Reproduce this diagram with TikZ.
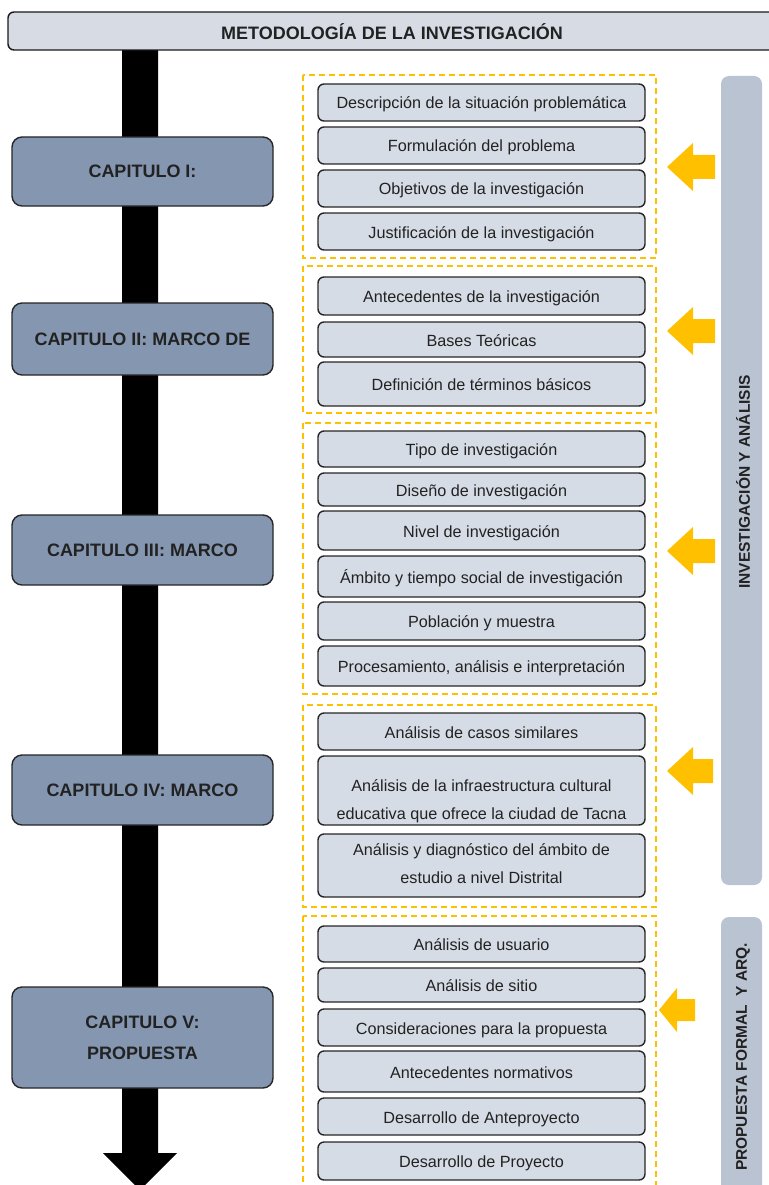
\documentclass[tikz,border=0pt]{standalone}
\usepackage{fontspec}
\setmainfont{Liberation Sans}
\definecolor{titlefill}{HTML}{D7DCE4}
\definecolor{itemfill}{HTML}{D6DCE5}
\definecolor{chapfill}{HTML}{8496B0}
\definecolor{sidefill}{HTML}{BAC3D1}
\definecolor{gold}{HTML}{FFC000}
\definecolor{txt}{HTML}{222222}
\tikzset{
  every node/.style={inner sep=0pt, outer sep=0pt},
  titlebox/.style={draw=black!90, line width=1.4pt, fill=titlefill, rounded corners=6pt},
  titletext/.style={font=\fontsize{18}{21}\selectfont\bfseries, text=txt},
  chapbox/.style={draw=black!85, line width=1.4pt, fill=chapfill, rounded corners=10pt,
    minimum width=261pt, font=\fontsize{18}{31}\selectfont\bfseries, text=txt, align=center},
  itembox/.style={draw=black!85, line width=1.4pt, fill=itemfill, rounded corners=6pt,
    minimum width=327pt, font=\fontsize{16.2}{28}\selectfont, text=txt, align=center,
    execute at begin node={\rule{0pt}{17pt}}, execute at end node={\rule[-4pt]{0pt}{4pt}}},
  grp/.style={draw=gold, line width=1.3pt, dash pattern=on 6pt off 4pt},
  sidebar/.style={fill=sidefill, rounded corners=8pt},
  sidetext/.style={font=\fontsize{15.5}{18}\selectfont\bfseries, text=txt, rotate=90},
  yarrow/.style={fill=gold},
  bigarrow/.style={fill=black},
}
\newcommand{\yarr}[6]{% tipx, y, backx, headhalf, shafthalf, endx
  \fill[yarrow] (#1,#2) -- (#3,#2-#4) -- (#3,#2-#5) -- (#6,#2-#5) -- (#6,#2+#5) -- (#3,#2+#5) -- (#3,#2+#4) -- cycle;}
\begin{document}
\begin{tikzpicture}[x=1pt, y=-1pt]
\useasboundingbox (0,0) rectangle (768,1185);
% main black arrow
\fill[bigarrow] (122,45) -- (158,45) -- (158,1153) -- (177,1153) -- (140,1190) -- (103,1153) -- (122,1153) -- cycle;
% title
\draw[titlebox] (8,12) rectangle (777,50);
\node[titletext] (title) at (392,32) {METODOLOGÍA DE LA INVESTIGACIÓN};
% chapters
\node[chapbox, minimum height=69pt] (c1) at (142.5,171.5) {CAPITULO I:};
\node[chapbox, minimum height=72pt] (c2) at (142.5,339) {CAPITULO II: MARCO DE};
\node[chapbox, minimum height=70pt] (c3) at (142.5,550) {CAPITULO III: MARCO};
\node[chapbox, minimum height=70pt] (c4) at (142.5,790) {CAPITULO IV: MARCO};
\node[chapbox, minimum height=101pt] (c5) at (142.5,1037.5) {CAPITULO V:\\PROPUESTA};
% groups
\draw[grp] (303,75) rectangle (656,258);
\draw[grp] (303,266) rectangle (656,413);
\draw[grp] (303,423) rectangle (656,694);
\draw[grp] (303,705) rectangle (656,907);
\draw[grp] (303,916) rectangle (656,1200);
% group 1
\node[itembox, minimum height=37pt] (i11) at (481.5,102.5) {Descripción de la situación problemática};
\node[itembox, minimum height=37pt] (i12) at (481.5,145.5) {Formulación del problema};
\node[itembox, minimum height=37pt] (i13) at (481.5,188.5) {Objetivos de la investigación};
\node[itembox, minimum height=37pt] (i14) at (481.5,231.5) {Justificación de la investigación};
% group 2
\node[itembox, minimum height=38pt] (i21) at (481.5,296) {Antecedentes de la investigación};
\node[itembox, minimum height=35pt] (i22) at (481.5,339.5) {Bases Teóricas};
\node[itembox, minimum height=44pt] (i23) at (481.5,384) {Definición de términos básicos};
% group 3
\node[itembox, minimum height=36pt] (i31) at (481.5,449) {Tipo de investigación};
\node[itembox, minimum height=33pt] (i32) at (481.5,489.5) {Diseño de investigación};
\node[itembox, minimum height=39pt] (i33) at (481.5,530.5) {Nivel de investigación};
\node[itembox, minimum height=41pt] (i34) at (481.5,576.5) {Ámbito y tiempo social de investigación};
\node[itembox, minimum height=38pt] (i35) at (481.5,621) {Población y muestra};
\node[itembox, minimum height=40pt] (i36) at (481.5,666) {Procesamiento, análisis e interpretación};
% group 4
\node[itembox, minimum height=37pt] (i41) at (481.5,731.5) {Análisis de casos similares};
\node[itembox, minimum height=69pt] (i42) at (481.5,790.5) {\rule{0pt}{33pt}Análisis de la infraestructura cultural\\educativa que ofrece la ciudad de Tacna};
\node[itembox, minimum height=63pt] (i43) at (481.5,865.5) {Análisis y diagnóstico del ámbito de\\estudio a nivel Distrital};
% group 5
\node[itembox, minimum height=36pt] (i51) at (481.5,944) {Análisis de usuario};
\node[itembox, minimum height=34pt] (i52) at (481.5,985) {Análisis de sitio};
\node[itembox, minimum height=37pt] (i53) at (481.5,1027.5) {Consideraciones para la propuesta};
\node[itembox, minimum height=41pt] (i54) at (481.5,1071.5) {Antecedentes normativos};
\node[itembox, minimum height=37pt] (i55) at (481.5,1116.5) {Desarrollo de Anteproyecto};
\node[itembox, minimum height=38pt] (i56) at (481.5,1161) {Desarrollo de Proyecto};
% yellow arrows
\yarr{667}{167}{693}{24}{12}{715}
\yarr{667}{331}{693}{24}{12}{715}
\yarr{667}{551}{693}{24}{12}{715}
\yarr{667}{771}{693}{24}{12}{713}
\yarr{659}{1010}{677}{22}{11}{695}
% side bars
\fill[sidebar] (721,76) rectangle (762,885);
\fill[sidebar] (721,917) rectangle (762,1200);
\node[sidetext] (s1) at (743,482) {INVESTIGACIÓN Y ANÁLISIS};
\node[sidetext] (s2) at (743,1057) {PROPUESTA FORMAL\ \ Y ARQ.};
\end{tikzpicture}
\end{document}
